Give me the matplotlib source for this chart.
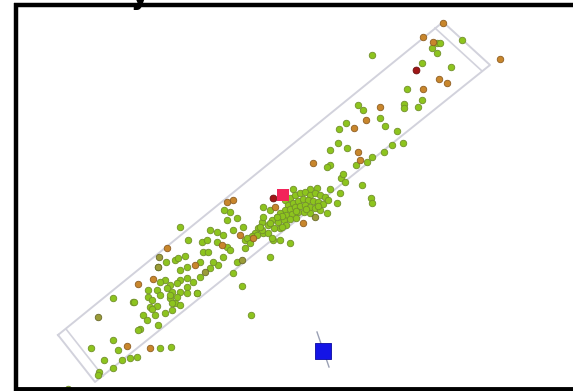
import matplotlib
matplotlib.use("Agg")
import matplotlib.pyplot as plt

# ---- data (image-space coordinates of the projected points) ----
green_x = [437, 440, 432, 437, 462, 422, 451, 407, 422, 404, 404, 418, 372,
           358, 363, 346, 339, 380, 385, 397, 392, 403, 338, 330, 347, 372, 384, 330, 356, 371, 341, 345, 327, 343, 367,
           293, 310, 317, 330, 340, 337, 362, 372, 327, 290, 273, 280, 263, 250, 230, 277,
           285, 290, 295, 300, 305, 310, 315, 320, 325, 288, 293, 298, 303, 308, 313, 318, 323, 328,
           285, 290, 295, 300, 305, 310, 315, 320, 280, 286, 292, 298, 304, 310, 272, 278, 284, 290, 296,
           268, 274, 286, 258, 262, 255, 268, 245, 282, 296, 306, 318, 262, 252,
           180, 166, 175, 178, 185, 188, 158, 180, 187, 200, 203, 208, 202, 207, 210, 217, 223, 227, 224,
           237, 233, 243, 247, 257, 260, 263, 270, 263, 270, 277, 282, 272, 280, 270, 227, 230, 223, 218,
           213, 210, 200, 193, 187, 180, 177, 170, 165, 160, 148, 157, 160, 167, 172, 180, 187, 197, 148,
           152, 170, 175, 180, 157, 133, 113, 233, 242, 237, 245, 250, 217, 251,
           134, 150, 152, 143, 147, 155, 165, 158, 140, 113, 91, 118, 160, 171, 104, 122, 130, 137, 113,
           99, 98, 172, 172, 170, 177, 187, 197, 138, 68]
green_y = [43, 43, 48, 53, 40, 63, 67, 89, 100, 104, 108, 107, 55,
           105, 110, 123, 129, 118, 126, 131, 145, 143, 143, 150, 148, 157, 152, 165, 165, 198, 178, 182, 167, 174, 162,
           189, 189, 188, 189, 193, 203, 185, 203, 213, 243, 240, 228, 233, 240, 212, 217,
           200, 198, 195, 193, 192, 195, 193, 195, 197, 205, 203, 201, 199, 200, 201, 202, 204, 200,
           210, 209, 207, 206, 205, 207, 208, 210, 213, 215, 214, 212, 212, 213, 220, 222, 220, 219, 218,
           225, 228, 225, 228, 222, 233, 233, 240, 216, 211, 209, 206, 230, 236,
           227, 262, 260, 258, 256, 240, 267, 270, 267, 262, 252, 252, 242, 240, 230, 232, 235, 220, 210,
           218, 230, 227, 238, 235, 227, 217, 210, 207, 223, 217, 227, 238, 240, 257, 247, 250, 257, 265,
           262, 268, 277, 282, 278, 280, 283, 285, 280, 282, 290, 290, 295, 288, 292, 292, 287, 293, 297,
           300, 298, 303, 305, 306, 302, 298, 273, 286, 262, 248, 243, 242, 315,
           302, 307, 309, 315, 320, 315, 313, 325, 329, 340, 348, 350, 348, 347, 360, 360, 358, 357, 368,
           372, 375, 310, 303, 295, 297, 293, 293, 330, 389]

olive_x = [159, 205, 242, 98, 315, 158]
olive_y = [257, 272, 260, 317, 217, 267]

orange_x = [443, 423, 433, 500, 439, 447, 423, 380, 366, 354, 360, 358, 313, 303,
            233, 227, 275, 167, 195, 253, 240, 222, 153, 138, 127, 150]
orange_y = [23, 37, 42, 59, 79, 83, 89, 107, 120, 128, 160, 152, 163, 223,
            200, 202, 207, 248, 265, 238, 235, 245, 279, 284, 346, 348]

darkred_x = [416, 273]
darkred_y = [70, 198]

# projected bounding box corners (outer) and end-cap lines
box_x = [58, 443, 490, 95, 58]
box_y = [335, 22, 65, 382, 335]
cap1_x = [66, 103]
cap1_y = [329, 376]
cap2_x = [435, 482]
cap2_y = [28, 71]

# markers
red_sq = (283, 195)
blue_sq = (323, 351)
blue_axis_x = [317, 329]
blue_axis_y = [332, 367]

W, H = 573, 391
fig = plt.figure(figsize=(W / 100, H / 100), dpi=100)
ax = fig.add_axes([0, 0, 1, 1])
ax.set_xlim(0, W)
ax.set_ylim(H, 0)
ax.axis("off")

box_col = "#d2d2dc"
ax.plot(box_x, box_y, color=box_col, lw=1.4, zorder=1)
ax.plot(cap1_x, cap1_y, color=box_col, lw=1.2, zorder=1)
ax.plot(cap2_x, cap2_y, color=box_col, lw=1.2, zorder=1)

ax.scatter(green_x, green_y, s=22, c="#8dc41e", edgecolors="#72902a", linewidths=0.6, zorder=3)
ax.scatter(olive_x, olive_y, s=22, c="#9a9c38", edgecolors="#6a6a2c", linewidths=0.6, zorder=3)
ax.scatter(orange_x, orange_y, s=22, c="#c8862c", edgecolors="#8e5e22", linewidths=0.6, zorder=4)
ax.scatter(darkred_x, darkred_y, s=24, c="#a01616", edgecolors="#6a1010", linewidths=0.6, zorder=4)

ax.scatter([red_sq[0]], [red_sq[1]], marker="s", s=80, c="#f2245a", edgecolors="none", zorder=5)
ax.plot(blue_axis_x, blue_axis_y, color="#9aa0b4", lw=1.0, zorder=4)
ax.scatter([blue_sq[0]], [blue_sq[1]], marker="s", s=120, c="#1414e6", edgecolors="#0a0aa0",
           linewidths=0.6, zorder=5)

# black frame (left, top, bottom)
ax.plot([16, 16], [3, 391], color="black", lw=3.2, zorder=6, solid_capstyle="butt")
ax.plot([14.4, 573], [5, 5], color="black", lw=3.2, zorder=6, solid_capstyle="butt")
ax.plot([14.4, 573], [388.5, 388.5], color="black", lw=3.5, zorder=6, solid_capstyle="butt")

# letter of a title clipped by the crop: only its descender shows below the frame line
fig.text(131 / W, 1 - 3.5 / H, "y", fontsize=20, fontweight="bold", color="black",
         ha="left", va="baseline")

fig.savefig("out.png", dpi=100)
